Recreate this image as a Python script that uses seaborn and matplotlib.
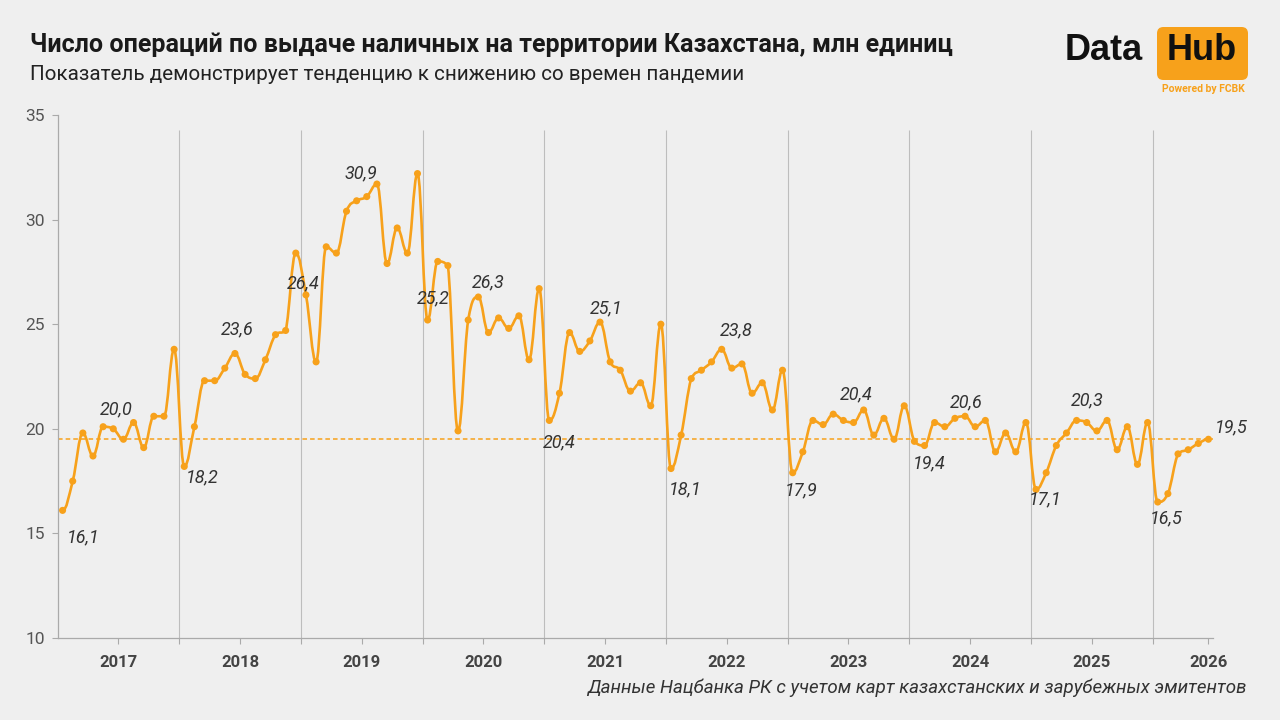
import numpy as np
import pandas as pd
import matplotlib.pyplot as plt
import seaborn as sns
from matplotlib.path import Path
from matplotlib.patches import PathPatch, FancyBboxPatch

# Данные: число операций по выдаче наличных, млн единиц (помесячно)
years = [2017, 2018, 2019, 2020, 2021, 2022, 2023, 2024, 2025, 2026]
v2017 = [16.1, 17.5, 19.8, 18.7, 20.1, 20.0, 19.5, 20.3, 19.1, 20.6, 20.6, 23.8]
v2018 = [18.2, 20.1, 22.3, 22.3, 22.9, 23.6, 22.6, 22.4, 23.3, 24.5, 24.7, 28.4]
v2019 = [26.4, 23.2, 28.7, 28.4, 30.4, 30.9, 31.1, 31.7, 27.9, 29.6, 28.4, 32.2]
v2020 = [25.2, 28.0, 27.8, 19.9, 25.2, 26.3, 24.6, 25.3, 24.8, 25.4, 23.3, 26.7]
v2021 = [20.4, 21.7, 24.6, 23.7, 24.2, 25.1, 23.2, 22.8, 21.8, 22.2, 21.1, 25.0]
v2022 = [18.1, 19.7, 22.4, 22.8, 23.2, 23.8, 22.9, 23.1, 21.7, 22.2, 20.9, 22.8]
v2023 = [17.9, 18.9, 20.4, 20.2, 20.7, 20.4, 20.3, 20.9, 19.7, 20.5, 19.5, 21.1]
v2024 = [19.4, 19.2, 20.3, 20.1, 20.5, 20.6, 20.1, 20.4, 18.9, 19.8, 18.9, 20.3]
v2025 = [17.1, 17.9, 19.2, 19.8, 20.4, 20.3, 19.9, 20.4, 19.0, 20.1, 18.3, 20.3]
v2026 = [16.5, 16.9, 18.8, 19.0, 19.3, 19.5]
ref_level = 19.5

values = v2017 + v2018 + v2019 + v2020 + v2021 + v2022 + v2023 + v2024 + v2025 + v2026
df = pd.DataFrame({'idx': np.arange(len(values)), 'value': values})

# подписи: январь и июнь каждого года
labeled = [i for i in df['idx'] if i % 12 in (0, 5)]
# смещения подписей (пиксели: вправо, вниз)
offsets = [(21, 27), (3, -19), (18, 11), (2, -24), (-3, -12), (4, -27), (6, -22), (10, -15),
           (10, 22), (6, -14), (14, 21), (14, -19), (8, 18), (13, -26), (15, 22), (1, -14),
           (9, 10), (0, -22), (8, 16), (23, -12)]

ORANGE = '#F7A11B'
BG = '#EFEFEF'

sns.set_theme(style="white")
plt.rcParams['font.family'] = ['Roboto', 'DejaVu Sans']

fig = plt.figure(figsize=(12.8, 7.2), dpi=100, facecolor=BG)
ax = fig.add_axes([57.5 / 1280, 1 - 638 / 720, (1213 - 57.5) / 1280, (638 - 115) / 720])
ax.set_facecolor(BG)

# сглаженная линия (Безье, контрольные точки не выходят за соседние значения)
x = df['idx'].to_numpy(float)
y = df['value'].to_numpy(float)
verts = [(x[0], y[0])]
codes = [Path.MOVETO]
k = 0.2
for i in range(len(x) - 1):
    p0 = max(i - 1, 0)
    p3 = min(i + 2, len(x) - 1)
    lo, hi = min(y[i], y[i + 1]), max(y[i], y[i + 1])
    c1y = np.clip(y[i] + (y[i + 1] - y[p0]) * k, lo, hi)
    c2y = np.clip(y[i + 1] - (y[p3] - y[i]) * k, lo, hi)
    # на локальных экстремумах касательная горизонтальна
    if (y[i] - y[p0]) * (y[i + 1] - y[i]) <= 0:
        c1y = y[i]
    if (y[i + 1] - y[i]) * (y[p3] - y[i + 1]) <= 0:
        c2y = y[i + 1]
    verts += [(x[i] + 0.4, c1y), (x[i + 1] - 0.4, c2y), (x[i + 1], y[i + 1])]
    codes += [Path.CURVE4] * 3
ax.add_patch(PathPatch(Path(verts, codes), facecolor='none', edgecolor=ORANGE,
                       lw=1.9, zorder=3, capstyle='round', joinstyle='round'))

sns.scatterplot(data=df, x='idx', y='value', color=ORANGE, s=26, edgecolor='none',
                zorder=4, ax=ax, legend=False)

ax.axhline(ref_level, color=ORANGE, lw=1.1, ls=(0, (3, 2)), zorder=2)

# границы лет
bounds = [11.5 + 12 * k for k in range(len(years) - 1)]
ax.vlines(bounds, 10, 34.3, color='#BDBDBD', lw=0.8, zorder=1)

for i, (dx, dy) in zip(labeled, offsets):
    v = values[i]
    ax.annotate(f'{v:.1f}'.replace('.', ','), (i, v), xytext=(dx * 0.72, -dy * 0.72),
                textcoords='offset points', ha='center', va='center',
                fontsize=13, style='italic', color='#333333', zorder=5)

ax.set_xlim(-0.5, 113.45)
ax.set_ylim(10, 35)
ax.set_yticks([10, 15, 20, 25, 30, 35])
centers = [5.5 + 12 * k for k in range(len(years) - 1)] + [113]
ax.set_xticks(centers)
ax.set_xticklabels([str(yr) for yr in years], fontweight='bold', fontsize=12, color='#444444')
ax.set_xticks(bounds, minor=True)
ax.tick_params(axis='x', which='both', length=4, color='#AAAAAA', width=0.8, pad=8, bottom=True)
ax.tick_params(axis='y', length=4, color='#AAAAAA', width=0.8, pad=5, labelsize=12.5,
               labelcolor='#555555', left=True)
ax.set_xlabel('')
ax.set_ylabel('')
for s in ['top', 'right']:
    ax.spines[s].set_visible(False)
for s in ['left', 'bottom']:
    ax.spines[s].set_color('#AAAAAA')
    ax.spines[s].set_linewidth(0.9)

fig.text(30 / 1280, 1 - 45 / 720, 'Число операций по выдаче наличных на территории Казахстана, млн единиц',
         fontsize=18, fontweight='bold', color='#1A1A1A', va='center')
fig.text(30 / 1280, 1 - 75 / 720, 'Показатель демонстрирует тенденцию к снижению со времен пандемии',
         fontsize=14.9, color='#222222', va='center')
fig.text(1247 / 1280, 1 - 688 / 720,
         'Данные Нацбанка РК с учетом карт казахстанских и зарубежных эмитентов',
         fontsize=13.5, style='italic', color='#333333', ha='right', va='center')

# логотип
logo_font = ['Liberation Sans', 'DejaVu Sans']
fig.text(1104 / 1280, 1 - 51 / 720, 'Data', fontsize=26, fontweight='bold', color='#111111',
         ha='center', va='center', family=logo_font)
box = FancyBboxPatch((1157 / 1280, 1 - 80 / 720), 91 / 1280, 53 / 720,
                     boxstyle='round,pad=0,rounding_size=0.005', mutation_aspect=1280 / 720,
                     transform=fig.transFigure, facecolor=ORANGE, edgecolor='none')
fig.add_artist(box)
fig.text(1202 / 1280, 1 - 51 / 720, 'Hub', fontsize=26, fontweight='bold', color='#111111',
         ha='center', va='center', family=logo_font)
fig.text(1203 / 1280, 1 - 89 / 720, 'Powered by FCBK', fontsize=7.5, fontweight='bold',
         color=ORANGE, ha='center', va='center')

fig.savefig('out.png', dpi=100, facecolor=BG)
